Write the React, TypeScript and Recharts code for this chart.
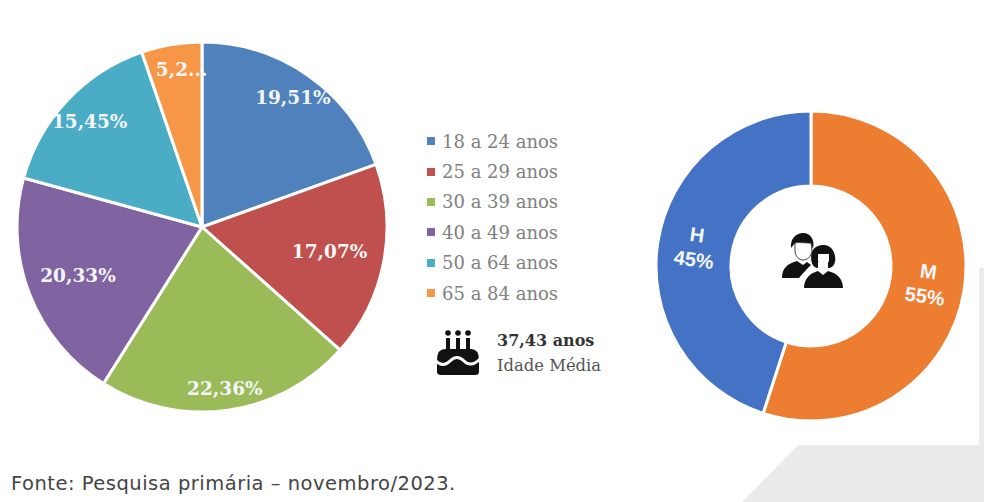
import React from 'react';
import { PieChart, Pie, Cell, Legend } from 'recharts';

const ageGroups = ['18 a 24 anos', '25 a 29 anos', '30 a 39 anos', '40 a 49 anos', '50 a 64 anos', '65 a 84 anos'];
const ageShares = [19.51, 17.07, 22.36, 20.33, 15.45, 5.28];
const ageLabels = ['19,51%', '17,07%', '22,36%', '20,33%', '15,45%', '5,2...'];
const ageColors = ['#4F81BD', '#C0504D', '#9BBB59', '#8064A2', '#4BACC6', '#F79646'];
const ageLabelRadius = [158, 130, 163, 133, 154, 160];
const ageLabelNudge = [0, 0, 0, 0, 0, 6];

const genders = ['M', 'H'];
const genderShares = [55, 45];
const genderLabels = ['55%', '45%'];
const genderColors = ['#ED7D31', '#4472C4'];

const ageData = ageGroups.map((name, i) => ({ name, value: ageShares[i] }));
const genderData = genders.map((name, i) => ({ name, value: genderShares[i] }));

const RAD = Math.PI / 180;

const AgeLabel = (props: any) => {
  const r = ageLabelRadius[props.index];
  const x = props.cx + r * Math.cos(-props.midAngle * RAD) + ageLabelNudge[props.index];
  const y = props.cy + r * Math.sin(-props.midAngle * RAD);
  return (
    <text x={x} y={y} fill="#f4f6f8" textAnchor="middle" dominantBaseline="central"
      style={{ fontFamily: 'DejaVu Serif', fontWeight: 700, fontSize: 18.5 }}>
      {ageLabels[props.index]}
    </text>
  );
};

const GenderLabel = (props: any) => {
  const x = props.cx + 117 * Math.cos(-props.midAngle * RAD);
  const y = props.cy + 117 * Math.sin(-props.midAngle * RAD);
  return (
    <text fill="#f4f6f8" textAnchor="middle" transform={`rotate(8 ${x} ${y})`}
      style={{ fontFamily: 'Liberation Sans', fontWeight: 700, fontSize: 20 }}>
      <tspan x={x} y={y - 6}>{genders[props.index]}</tspan>
      <tspan x={x} y={y + 19}>{genderLabels[props.index]}</tspan>
    </text>
  );
};

const AgeLegend = () => (
  <div>
    {ageGroups.map((name, i) => (
      <div key={name} style={{ height: 30.4, display: 'flex', alignItems: 'center' }}>
        <span style={{ width: 8, height: 8, background: ageColors[i], marginRight: 7 }} />
        <span style={{ fontFamily: 'DejaVu Serif', fontSize: 18, color: '#808080', whiteSpace: 'nowrap' }}>{name}</span>
      </div>
    ))}
  </div>
);

const Backdrop = () => (
  <svg width={984} height={502} style={{ position: 'absolute', left: 0, top: 0 }}>
    <polygon points="979,268 984,268 984,502 742,502 798,445 979,445" fill="#ebebeb" />
  </svg>
);

const CakeIcon = () => (
  <svg width={50} height={52} viewBox="0 0 50 52" style={{ position: 'absolute', left: 433, top: 326 }}>
    <g fill="#111">
      <circle cx={15} cy={7} r={2.8} />
      <circle cx={25} cy={7} r={2.8} />
      <circle cx={35} cy={7} r={2.8} />
      <rect x={13} y={12} width={4} height={11} />
      <rect x={23} y={12} width={4} height={11} />
      <rect x={33} y={12} width={4} height={11} />
      <path d="M4 34 Q4 23 12 23 L38 23 Q46 23 46 34 L46 46 Q46 49 42 49 L8 49 Q4 49 4 46 Z" />
    </g>
    <path d="M3 35 Q10 42 17 35 T31 35 T47 33" fill="none" stroke="#fff" strokeWidth={3} />
  </svg>
);

const PeopleIcon = () => (
  <svg width={66} height={58} viewBox="0 0 66 58" style={{ position: 'absolute', left: 780, top: 232 }}>
    <g fill="#111">
      <path d="M11 16 C10 6 17 1 23 1 C31 1 35 8 33 17 L31 11 C25 11 18 10 15 11 Z" />
      <path d="M2 46 C2 36 7 32 17 29 L23 33 L27 30 L31 33 C26 38 22 42 19 46 Z" />
      <path d="M38 36 C31 36 30 25 32 20 C34 14 40 13 44 13 C50 13 54 18 55 24 C56 30 54 36 48 36 L48 30 L38 30 Z" />
      <path d="M24 56 C24 46 31 41 38 39 L43 43 L48 39 C56 41 63 46 63 56 Z" />
    </g>
    <path d="M15 11 C18 10 25 11 31 11 L32 19 C31 25 27 28 23 28 C19 28 15 24 15 19 Z" fill="#fff" stroke="#111" strokeWidth={0.8} />
    <path d="M38 22 L49 22 L49 29 C47 33 40 33 38 29 Z" fill="#fff" />
  </svg>
);

const App = () => (
  <div style={{ position: 'absolute', left: 0, top: 0, width: 984, height: 502, background: '#fff', overflow: 'hidden' }}>
    <Backdrop />
    <PieChart width={984} height={502} margin={{ top: 0, right: 0, bottom: 0, left: 0 }} style={{ position: 'absolute', left: 0, top: 0 }}>
      <Pie data={ageData} dataKey="value" cx={202} cy={227} outerRadius={185} startAngle={90} endAngle={-270}
        stroke="#fff" strokeWidth={3} label={AgeLabel} labelLine={false} isAnimationActive={false}>
        {ageData.map((d, i) => <Cell key={d.name} fill={ageColors[i]} />)}
      </Pie>
      <Pie data={genderData} dataKey="value" cx={811} cy={266} innerRadius={80} outerRadius={155} startAngle={90} endAngle={-270}
        stroke="#fff" strokeWidth={3} label={GenderLabel} labelLine={false} isAnimationActive={false}>
        {genderData.map((d, i) => <Cell key={d.name} fill={genderColors[i]} />)}
      </Pie>
      <Legend content={AgeLegend} wrapperStyle={{ position: 'absolute', left: 427, top: 126, width: 170, bottom: 'auto' }} />
    </PieChart>
    <CakeIcon />
    <PeopleIcon />
    <div style={{ position: 'absolute', left: 497, top: 331, fontFamily: 'DejaVu Serif', fontSize: 16, fontWeight: 700, color: '#333', whiteSpace: 'nowrap' }}>37,43 anos</div>
    <div style={{ position: 'absolute', left: 497, top: 356, fontFamily: 'DejaVu Serif', fontSize: 16.4, color: '#555', whiteSpace: 'nowrap' }}>Idade Média</div>
    <div style={{ position: 'absolute', left: 11, top: 472, fontFamily: 'DejaVu Sans', fontSize: 19.5, letterSpacing: 0.5, color: '#444', whiteSpace: 'nowrap' }}>Fonte: Pesquisa primária – novembro/2023.</div>
  </div>
);

export default App;
